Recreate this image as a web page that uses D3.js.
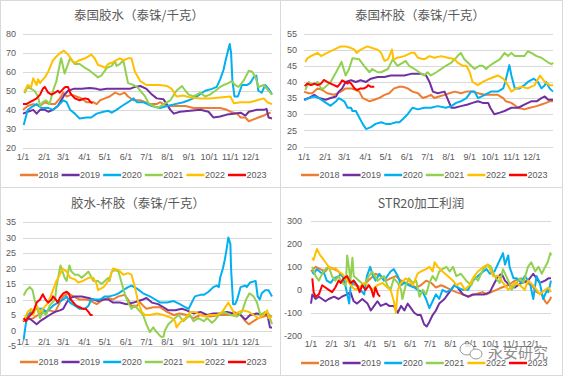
<!DOCTYPE html>
<html><head><meta charset="utf-8">
<script src="https://cdn.jsdelivr.net/npm/d3@7"></script>
<style>
html,body{margin:0;padding:0;background:#fff;}
svg{display:block;font-family:"Liberation Sans","DejaVu Sans",sans-serif;}
</style></head>
<body>
<svg id="c" width="563" height="376"></svg>
<script>
const monthLabels = ["1/1","2/1","3/1","4/1","5/1","6/1","7/1","8/1","9/1","10/1","11/1","12/1"];
const monthDays = [0,31,59,90,120,151,181,212,243,273,304,334];
const years = ["2018","2019","2020","2021","2022","2023"];
const colors = ["#ED7D31","#7030A0","#00B0F0","#92D050","#FFC000","#FF0000"];
const titles = ["泰国胶水（泰铢/千克）","泰国杯胶（泰铢/千克）","胶水-杯胶（泰铢/千克）","STR20加工利润"];
const ticks1 = [20,30,40,50,60,70,80];
const ticks2 = [20,25,30,35,40,45,50,55];
const ticks3 = [-5,0,5,10,15,20,25,30,35];
const ticks4 = [-200,-100,0,100,200,300];

// [day of year, value]
const p1_2018 = [[0,40],[7,42],[15,43],[25,42],[32,44],[39,43],[47,43],[54,46],[59,49],[64,47],[71,48],[78,47],[86,46],[93,44],[103,44],[108,43],[113,45],[120,46],[127,47],[135,49],[142,48],[149,49],[154,47],[162,45],[172,45],[179,44],[186,43],[196,43],[201,44],[211,42],[225,42],[238,42],[250,41],[260,41],[274,41],[289,41],[299,40],[304,39],[314,38],[319,36],[326,36],[331,34],[338,35],[345,36],[353,37],[358,38],[363,38.5]];
const p1_2019 = [[0,38],[7,39],[15,40],[20,38],[25,40],[32,40],[37,39],[44,40],[51,42],[56,45],[61,48],[66,50],[74,51],[86,51],[98,51.5],[108,51],[113,50.5],[123,51],[135,51],[147,51],[157,51],[164,52],[172,52.5],[181,51],[189,48],[196,46],[206,45.5],[216,40],[221,38],[230,39],[245,39.5],[260,40],[272,39],[279,36],[289,36.5],[299,37.5],[309,38],[319,38.5],[326,37],[331,39],[343,40],[353,40],[357,40.5],[360,36],[365,35.5]];
const p1_2020 = [[1,32],[7,40],[15,42],[20,43],[27,41],[37,41],[44,40],[51,42],[59,45],[64,44],[69,40],[76,38],[83,35.5],[93,36],[100,36],[108,38],[118,39],[125,39.5],[130,38.5],[137,40],[145,42],[154,44],[162,46],[167,44],[176,44],[189,42],[201,41],[211,42],[223,43],[235,44],[243,45],[255,47],[267,50],[277,51],[284,52],[289,56],[294,61],[297,66],[303,74.5],[305,70],[307,55],[310,47],[315,47],[318,50],[321,53],[328,53],[333,54],[338,57],[342,58],[345,50],[350,49],[355,53],[360,51],[365,48]];
const p1_2021 = [[2,48.7],[7,52],[12,51],[17,50],[22,47],[25,42],[29,44],[34,45],[39,43],[44,50],[49,55],[54,64],[56,67],[61,59],[64,62],[69,67],[76,64],[83,64],[91,62],[96,61],[103,59],[110,57],[115,58],[123,62],[130,63],[135,65.5],[137,63],[142,64],[147,66],[154,54],[162,53],[167,52],[172,50],[179,47],[184,43.5],[191,42],[198,41],[206,43],[216,45],[225,50],[233,52.5],[238,50],[243,48],[250,47],[260,49],[267,47],[274,48],[282,50],[289,52],[294,53],[301,54],[306,55],[311,53],[316,52],[323,55],[331,60.5],[336,60],[341,57],[345,52],[353,53],[360,50],[365,48]];
const p1_2022 = [[2,49.6],[7,53],[12,52],[15,56.5],[20,53],[22,56],[25,54],[27,55],[32,57],[37,60],[44,66],[49,68],[54,69.6],[60,71],[66,69],[74,65],[78,65],[83,66],[91,67],[96,68],[100,69],[105,67],[110,63.5],[115,63],[120,62],[125,64],[132,65],[137,66],[142,67],[147,66],[154,67],[159,67],[164,60],[172,55],[181,53],[191,53],[201,53],[211,52.5],[218,51],[225,47],[235,47.5],[245,46.5],[260,46],[274,46],[289,46.5],[304,47],[309,43.5],[319,44],[333,44],[343,45],[353,46],[358,44],[365,43]];
const p1_2023 = [[0,43],[5,43],[10,44],[15,45],[20,46],[25,48],[29,51],[32,52],[37,49],[42,48],[47,49],[51,50],[54,49],[59,51],[62,52],[66,52],[69,49],[71,48],[76,46],[83,45],[91,46],[96,45.5],[99,44],[102,43.5]];

const p2_2018 = [[0,37],[7,36.5],[12,36.5],[20,38],[27,37.5],[34,36.5],[44,36],[54,37],[61,38],[69,38],[76,37.5],[81,37],[86,35],[91,34.5],[96,34],[103,34.5],[110,35],[118,36],[125,36.5],[132,38],[140,38.5],[145,38.5],[152,38],[159,37],[167,36.5],[174,35],[181,35.5],[186,36],[191,35],[198,35.5],[206,36],[213,36.5],[221,37],[230,36.5],[238,37],[247,37],[255,36.5],[265,36],[274,36],[284,36],[292,35],[296,34],[304,33.5],[314,32],[323,31.5],[331,32],[341,32.5],[348,33],[355,33.5],[360,34],[365,34]];
const p2_2019 = [[0,34.5],[7,35],[15,36],[22,35],[32,34.5],[39,35],[47,35.5],[51,37],[56,38],[61,40],[69,40.5],[76,40],[83,40.5],[91,40],[98,41],[108,41.5],[118,41.5],[127,42],[137,42],[147,42],[157,42.5],[172,42.5],[179,42],[184,40],[189,37],[196,36.5],[206,37],[208,36],[216,32],[221,32],[230,32.5],[240,33],[247,33.5],[255,34],[262,33.5],[270,33.5],[273,32],[279,30],[287,30.5],[294,31],[304,32],[314,32],[323,33],[333,34],[341,34],[348,35],[353,35.5],[358,34.5],[365,34.5]];
const p2_2020 = [[1,34.4],[7,35],[15,35.5],[22,35],[29,34],[39,32.6],[47,34],[51,35],[59,34],[64,32],[69,32],[71,31],[76,31],[81,29],[86,27],[91,25.4],[98,26],[105,27],[113,27.5],[120,27],[127,27],[135,27.5],[140,27.5],[145,28.5],[152,30],[159,32],[167,31.5],[176,32],[186,32],[196,32.5],[208,32],[216,32.5],[223,33.5],[230,34],[238,35],[245,37],[250,37],[255,35],[265,36],[274,37],[284,37],[292,38],[295,40],[301,45.2],[304,42],[309,38],[316,38],[323,39],[328,40],[337,41],[343,40],[348,38],[353,39],[355,40],[360,38],[365,37]];
const p2_2021 = [[2,37.5],[7,40],[12,39],[20,40],[25,38],[29,38],[39,40],[47,43],[55,46.2],[61,42],[66,44],[71,47.3],[81,47],[88,45],[96,43],[100,44],[108,43],[113,43],[123,44],[130,47],[137,45],[145,46],[149,46.5],[154,45],[162,44],[169,43],[176,42],[181,43],[186,42],[194,43],[201,44],[208,45],[216,46],[221,47],[225,48],[230,49],[235,47],[240,46],[245,45],[250,44],[257,45],[262,45],[267,44],[272,45],[279,46],[287,47],[294,49],[299,48],[304,49],[309,48],[316,48],[323,48],[328,49.5],[333,49],[341,48],[348,47.5],[358,46],[363,45.5],[365,46]];
const p2_2022 = [[2,46.2],[5,47.3],[10,48],[15,48.5],[20,49],[25,48],[34,49],[44,50],[54,51],[61,51],[69,50.5],[74,50],[77,49],[83,50],[93,51],[100,50.5],[108,50],[113,49],[118,46.5],[123,47],[129,50],[131,47],[137,47.5],[147,48],[157,49],[162,49],[167,47.5],[176,47],[184,48],[191,47.5],[201,48],[211,47.5],[221,47],[225,46],[233,45],[238,45],[243,43],[247,40],[255,39],[262,40],[272,41],[284,42],[292,41],[296,40],[304,37],[311,38],[319,38.5],[328,38],[338,39],[346,42],[353,40],[360,39],[365,39]];
const p2_2023 = [[1,38.7],[5,39.5],[10,39],[15,39.5],[20,39],[25,39.5],[29,40.6],[34,40],[39,39.5],[44,39],[49,38.5],[53,39.5],[56,40.5],[60,40],[64,39.5],[66,40],[69,39.5],[74,38],[78,37.5],[83,38],[88,38],[92,38.5],[94,39],[98,38.5],[103,38.5]];

const p3_2018 = [[0,3],[7,3.5],[15,4],[22,5],[29,6],[39,6.5],[47,6],[54,9],[59,11],[66,12],[74,11],[83,10],[93,10],[100,9.5],[108,8.5],[118,10],[125,10.5],[132,10],[140,11],[149,11.5],[154,10],[159,8],[167,8],[172,9],[176,8],[181,7],[191,7.5],[201,7.5],[211,6],[221,5],[230,5.5],[240,5],[250,4],[260,5],[274,4.5],[289,5],[304,5],[309,6],[319,5],[326,3],[331,2],[338,3],[345,4],[353,4.5],[360,5],[365,4.5]];
const p3_2019 = [[0,3],[7,4],[12,3.5],[20,2],[25,3],[32,4],[39,5],[47,6],[54,6.5],[59,7],[64,9],[69,10.5],[76,11],[86,11],[96,10.5],[103,10],[110,9.5],[118,10],[125,10],[132,9],[142,9],[152,8.5],[162,9],[169,9.5],[176,10],[181,10.5],[189,9],[198,8.5],[206,7.5],[213,6.5],[223,6.5],[233,7],[240,6.5],[250,5.5],[260,6],[270,5],[279,5.5],[289,5.5],[299,6],[309,5.5],[319,5],[326,3.5],[333,5],[343,5.5],[353,5],[358,5.5],[362,1],[365,1]];
const p3_2020 = [[1,-2.9],[4,2],[7,5],[12,6],[20,7],[29,7],[34,6],[44,8],[59,10],[64,11],[69,9],[76,8],[83,7],[91,7],[96,8],[100,10],[108,10],[113,10],[120,11],[127,11],[135,11.5],[140,12],[147,13],[154,14],[159,14.5],[167,13.5],[176,12],[186,11],[194,10],[201,9],[211,9],[221,9.5],[230,8.5],[238,7.5],[243,7],[245,8],[252,11],[260,11.5],[265,11.5],[272,12.5],[279,14],[284,14.5],[287,14],[289,17],[293,20],[296,23],[299,27],[301,30],[304,28],[305,20],[308,8.5],[311,8.5],[314,10],[319,14],[326,14.5],[328,14],[333,15.5],[341,16],[344,11],[347,10],[350,12],[355,13],[360,13],[365,11]];
const p3_2021 = [[1,11.3],[5,13],[10,14],[14,13],[17,10],[21,7],[25,4],[29,6],[34,5],[39,8],[43,9],[47,10],[49,14],[54,20],[55,21],[61,17],[64,16],[68,21],[71,19],[76,18],[81,18],[86,17],[91,18],[96,19],[103,16],[110,16],[115,15],[120,16],[125,17],[127,16],[130,19],[135,19.5],[140,19],[145,15],[149,12],[154,9],[159,7],[164,8],[172,6],[176,5],[181,2],[186,-0.5],[191,1],[194,0],[198,-1],[202,-2],[206,-2],[208,0],[213,2],[218,3],[223,4],[228,5],[235,3],[240,4],[245,5],[250,3],[257,4],[265,3],[270,4],[277,2.5],[282,3.5],[287,5],[294,6],[304,5],[314,4.5],[321,6],[327,10],[332,12],[338,11],[343,9],[348,5],[355,6],[360,5.5],[365,2]];
const p3_2022 = [[1,3],[5,5],[7,6],[12,7],[15,5],[20,8],[25,6],[29,7],[37,9],[44,13],[49,16],[54,18],[58,20],[64,19],[69,17],[76,16.5],[81,15.5],[88,16],[96,17],[103,17],[108,15],[110,13],[118,14],[125,16],[127,17],[132,20],[140,19.5],[147,18],[154,18.5],[159,18],[164,14],[169,9],[174,6],[179,5],[186,5],[196,5.5],[206,5],[218,4],[223,3],[225,1],[230,2.5],[238,4],[245,6],[252,6],[260,5],[267,4.5],[274,5],[284,5],[292,6],[301,9],[306,7],[311,5],[316,6],[323,6.5],[331,6],[338,5],[345,4],[353,5],[358,6.5],[360,4],[365,4.5]];
const p3_2023 = [[1,4],[4,3],[7,4],[11,5],[15,6],[20,9],[25,10],[29,11.7],[33,10],[37,9],[42,10],[44,11],[48,10],[51,9],[54,10.5],[59,12],[64,12.5],[67,12],[70,10],[74,9],[78,8],[83,7.5],[88,7],[92,7],[96,6],[99,5],[102,5]];

const p4_2018 = [[0,80],[7,100],[14,90],[22,80],[27,100],[35,90],[42,80],[47,60],[53,50],[60,30],[68,20],[75,10],[83,30],[91,50],[98,70],[106,60],[114,40],[121,50],[129,60],[137,40],[144,30],[152,20],[160,10],[167,20],[175,40],[183,30],[190,10],[198,20],[206,10],[213,0],[221,-10],[231,-20],[239,-30],[249,-20],[261,-10],[267,-20],[274,-10],[282,0],[290,10],[300,20],[310,40],[320,50],[328,30],[336,20],[343,-10],[351,-20],[356,-50],[359,-60],[364,-40],[365,-30]];
const p4_2019 = [[0,-60],[2,-20],[7,-40],[12,-30],[17,-40],[22,-50],[27,-40],[35,-30],[42,-40],[47,-30],[55,-20],[60,-10],[65,-50],[70,-60],[78,-40],[86,-60],[91,-90],[96,-70],[101,-50],[106,-70],[114,-60],[119,-70],[126,-70],[132,-100],[137,-70],[142,-90],[147,-60],[152,-80],[157,-100],[162,-110],[167,-110],[172,-150],[176,-160],[180,-140],[185,-110],[190,-90],[195,-60],[203,-40],[208,-20],[213,0],[218,20],[223,10],[231,-20],[239,-30],[246,-20],[254,-20],[264,-20],[272,-10],[279,30],[285,60],[290,70],[295,40],[302,20],[310,10],[320,30],[330,40],[338,70],[343,50],[348,30],[356,40],[361,50],[365,50]];
const p4_2020 = [[2,80],[4,70],[9,90],[17,70],[19,80],[24,40],[30,30],[35,50],[42,60],[47,70],[53,10],[58,-60],[60,10],[65,40],[75,0],[81,-20],[85,60],[90,100],[93,70],[98,40],[104,70],[111,40],[121,80],[126,90],[132,60],[137,20],[142,30],[149,20],[157,10],[162,0],[170,-10],[175,-40],[180,-80],[185,-50],[190,-20],[195,-40],[200,0],[206,-10],[213,0],[218,20],[223,10],[231,0],[239,0],[246,40],[254,60],[262,80],[267,90],[272,70],[279,80],[292,160],[295,110],[300,150],[302,100],[308,50],[313,50],[320,30],[325,60],[333,30],[338,-40],[343,60],[348,30],[353,-40],[359,0],[361,-10],[365,40]];
const p4_2021 = [[2,100],[7,60],[12,40],[17,70],[22,90],[27,100],[32,60],[37,40],[42,60],[47,30],[53,20],[55,150],[58,90],[60,40],[63,140],[65,60],[73,40],[81,20],[88,60],[93,80],[101,40],[106,50],[111,60],[116,20],[121,0],[126,50],[132,30],[137,0],[139,-40],[144,20],[149,50],[155,30],[160,40],[165,-30],[170,0],[175,-20],[180,30],[185,60],[190,40],[195,80],[200,90],[206,100],[211,80],[216,100],[221,60],[228,70],[236,40],[244,20],[249,60],[254,40],[262,90],[269,110],[274,100],[279,60],[287,30],[292,90],[300,40],[305,0],[310,20],[318,50],[323,30],[330,100],[335,120],[341,80],[346,100],[351,70],[356,100],[360,120],[364,160],[365,150]];
const p4_2022 = [[2,140],[4,130],[7,160],[9,178],[14,150],[17,140],[22,120],[27,100],[32,90],[37,95],[42,80],[47,70],[53,50],[58,30],[63,10],[68,0],[73,10],[81,30],[88,20],[93,0],[101,20],[109,30],[116,10],[121,0],[126,-50],[129,-100],[132,0],[137,30],[144,50],[149,40],[155,20],[162,70],[167,80],[175,90],[180,100],[185,80],[188,120],[193,100],[200,80],[208,60],[216,40],[221,20],[228,30],[234,0],[241,20],[246,50],[254,80],[262,100],[269,110],[277,60],[285,60],[292,30],[300,0],[310,30],[318,20],[325,0],[330,40],[338,20],[348,-20],[356,0],[361,10],[365,-10]];
const p4_2023 = [[2,50],[4,-10],[7,-30],[12,-20],[17,20],[22,10],[27,0],[32,-10],[37,10],[42,40],[45,30],[50,50],[55,60],[60,30],[65,40],[70,20],[74,-10],[78,20],[83,0],[88,20],[92,0],[95,-30],[98,10],[102,-20],[105,-30]];

const svg = d3.select("#c");
const W = 563, H = 376;
svg.append("rect").attr("x",0).attr("y",0).attr("width",W).attr("height",H).attr("fill","#fff");

const panels = [
  {title:titles[0], ox:0, oy:0, x0:23, x1:272, yTop:33.5, yBot:148, ticks:ticks1, series:[p1_2018,p1_2019,p1_2020,p1_2021,p1_2022,p1_2023], xLabY:160, legY:175, labR:16, tx:139, ty:20, leg0:20},
  {title:titles[1], ox:281, oy:0, x0:304, x1:553, yTop:33.5, yBot:146.5, ticks:ticks2, series:[p2_2018,p2_2019,p2_2020,p2_2021,p2_2022,p2_2023], xLabY:160, legY:175, labR:297, tx:420, ty:20, leg0:301},
  {title:titles[2], ox:0, oy:188, x0:23, x1:272, yTop:222, yBot:346, ticks:ticks3, series:[p3_2018,p3_2019,p3_2020,p3_2021,p3_2022,p3_2023], xLabY:345, xAxisAt:0, legY:362, labR:16, tx:138, ty:208, leg0:20},
  {title:titles[3], ox:281, oy:188, x0:311, x1:551, yTop:221, yBot:335.7, ticks:ticks4, series:[p4_2018,p4_2019,p4_2020,p4_2021,p4_2022,p4_2023], xLabY:347, legY:363, labR:302, tx:421, ty:208, leg0:301}
];

// panel borders
const border = "#d9d9d9";
svg.append("rect").attr("x",0.5).attr("y",0.5).attr("width",W-1).attr("height",H-1).attr("fill","none").attr("stroke",border);
svg.append("line").attr("x1",280.5).attr("x2",280.5).attr("y1",0).attr("y2",H).attr("stroke",border);
svg.append("line").attr("x1",0).attr("x2",W).attr("y1",187.5).attr("y2",187.5).attr("stroke",border);

panels.forEach(p => {
  const g = svg.append("g");
  const tmin = d3.min(p.ticks), tmax = d3.max(p.ticks);
  const x = d3.scaleLinear().domain([0,365]).range([p.x0,p.x1]);
  const y = d3.scaleLinear().domain([tmin,tmax]).range([p.yBot,p.yTop]);

  // gridlines
  g.selectAll(".grid").data(p.ticks).enter().append("line")
    .attr("x1",p.x0).attr("x2",p.x1)
    .attr("y1",d=>Math.round(y(d))+0.5).attr("y2",d=>Math.round(y(d))+0.5)
    .attr("stroke","#d9d9d9").attr("stroke-width",1);
  // y labels
  g.selectAll(".yl").data(p.ticks).enter().append("text")
    .attr("x",p.labR).attr("y",d=>y(d)+3.2)
    .attr("text-anchor","end").attr("font-size","9px").attr("fill","#595959")
    .text(d=>d);
  // x labels
  g.selectAll(".xl").data(monthLabels).enter().append("text")
    .attr("x",(d,i)=>x(monthDays[i])).attr("y",p.xLabY)
    .attr("text-anchor","middle").attr("font-size","9px").attr("fill","#595959")
    .text(d=>d);
  // title
  g.append("text").attr("x",p.tx).attr("y",p.ty).attr("text-anchor","middle")
    .attr("font-family","'Noto Sans CJK SC','Noto Sans',sans-serif")
    .attr("font-size","12.5px").attr("fill","#595959").text(p.title);

  const line = d3.line().x(d=>x(d[0])).y(d=>y(d[1])).curve(d3.curveLinear);
  p.series.forEach((s,i)=>{
    g.append("path").datum(s).attr("d",line).attr("fill","none")
      .attr("stroke",colors[i]).attr("stroke-width",2).attr("stroke-linejoin","round");
  });

  // legend
  years.forEach((yr,i)=>{
    const lx = p.leg0 + i*41.6;
    g.append("line").attr("x1",lx).attr("x2",lx+18).attr("y1",p.legY).attr("y2",p.legY)
      .attr("stroke",colors[i]).attr("stroke-width",2.5);
    g.append("text").attr("x",lx+18.5).attr("y",p.legY+3.2).attr("font-size","9px")
      .attr("fill","#595959").text(yr);
  });
});

// watermark
const wm = svg.append("g").attr("opacity",0.75);
wm.append("ellipse").attr("cx",467).attr("cy",349).attr("rx",7).attr("ry",6).attr("fill","#fff").attr("stroke","#777").attr("stroke-width",1);
wm.append("ellipse").attr("cx",476).attr("cy",354).attr("rx",6).attr("ry",5).attr("fill","#fff").attr("stroke","#777").attr("stroke-width",1);
wm.append("text").attr("x",488).attr("y",358).attr("font-size","15px")
  .attr("font-family","'Noto Sans CJK SC',sans-serif").attr("fill","#666")
  .attr("stroke","#fff").attr("stroke-width",0.6).attr("paint-order","stroke").text("永安研究");
</script>
</body></html>
